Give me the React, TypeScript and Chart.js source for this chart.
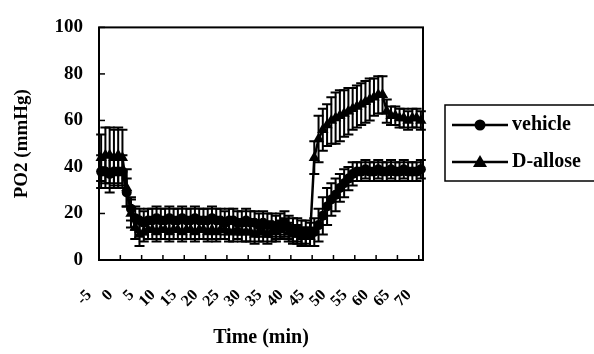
import { useEffect, useRef } from 'react';
import { Chart, registerables } from 'chart.js';

Chart.register(...registerables);

const minutes = [
  -5, -4, -3, -2, -1, 0, 1, 2, 3, 4, 5, 6, 7, 8, 9, 10, 11, 12, 13, 14, 15, 16, 17, 18, 19, 20,
  21, 22, 23, 24, 25, 26, 27, 28, 29, 30, 31, 32, 33, 34, 35, 36, 37, 38, 39, 40, 41, 42, 43, 44,
  45, 46, 47, 48, 49, 50, 51, 52, 53, 54, 55, 56, 57, 58, 59, 60, 61, 62, 63, 64, 65, 66, 67, 68,
  69, 70,
];
const xTickLabels = ['-5', '0', '5', '10', '15', '20', '25', '30', '35', '40', '45', '50', '55', '60', '65', '70'];
const yTickValues = [0, 20, 40, 60, 80, 100];
const seriesLabels = ['vehicle', 'D-allose'];

const vehicle = [
  38, 38, 37, 38, 38, 38,
  29, 22, 18, 17, 16,
  17, 17, 18, 17, 17, 18, 17, 17, 18, 17,
  17, 18, 17, 17, 17, 18, 17, 17, 16, 17,
  17, 16, 16, 17, 16, 16, 15, 16, 15, 15,
  14, 15, 16, 14, 13, 13, 12, 12, 11,
  12, 15, 19, 23, 26, 28, 31, 33, 35, 37, 38,
  38, 39, 38, 38, 39, 38, 38, 39, 38, 38, 39, 38, 38, 38, 39,
];
const vehicleErr = [
  7, 7, 8, 7, 7, 7,
  6, 5, 5, 5, 5,
  5, 5, 5, 5, 5, 5, 5, 5, 5, 5,
  5, 5, 5, 5, 5, 5, 5, 5, 5, 5,
  5, 5, 5, 5, 5, 5, 5, 5, 5, 5,
  5, 5, 5, 5, 5, 5, 5, 5, 5,
  6, 7, 8, 8, 7, 7, 6, 6, 5, 5, 4,
  4, 4, 4, 4, 4, 4, 4, 4, 4, 4, 4, 4, 4, 4, 4,
];
const dAllose = [
  44, 45, 45, 44, 45, 44,
  31, 20, 14, 11, 12,
  13, 13, 12, 13, 13, 12, 13, 13, 12, 13,
  13, 12, 13, 13, 12, 13, 12, 13, 13, 12,
  12, 13, 12, 12, 12, 11, 12, 12, 11, 12,
  12, 13, 14, 12, 11, 11, 10, 10, 10,
  44, 52, 56, 58, 60, 61, 62, 63, 64, 65, 66,
  67, 68, 69, 70, 71, 71, 64, 62, 62, 61, 61, 60, 61, 61, 60,
];
const dAlloseErr = [
  10, 12, 12, 12, 12, 12,
  8, 6, 5, 5, 4,
  4, 4, 4, 4, 4, 4, 4, 4, 4, 4,
  4, 4, 4, 4, 4, 4, 4, 4, 4, 4,
  4, 4, 4, 4, 4, 4, 4, 4, 4, 4,
  4, 4, 4, 4, 4, 4, 4, 4, 4,
  7, 10, 9, 9, 10, 11, 11, 10, 10, 9, 9,
  9, 9, 9, 8, 8, 8, 5, 4, 4, 4, 4, 4, 4, 4, 4,
];

const FONT = "'Liberation Serif', 'Times New Roman', serif";

const errorsBySeries = [vehicleErr, dAlloseErr];

const decorPlugin = {
  id: 'decor',
  beforeDatasetsDraw(chart: any) {
    const ctx = chart.ctx;
    const yScale = chart.scales.y;
    ctx.save();
    ctx.strokeStyle = '#000';
    ctx.lineWidth = 2;
    chart.data.datasets.forEach((ds: any, d: number) => {
      const meta = chart.getDatasetMeta(d);
      const errs = errorsBySeries[d];
      meta.data.forEach((pt: any, i: number) => {
        const v = ds.data[i];
        const e = errs[i];
        const x = pt.x;
        const yTop = yScale.getPixelForValue(v + e);
        const yBot = yScale.getPixelForValue(v - e);
        ctx.beginPath();
        ctx.moveTo(x, yTop);
        ctx.lineTo(x, yBot);
        ctx.moveTo(x - 5, yTop);
        ctx.lineTo(x + 5, yTop);
        ctx.moveTo(x - 5, yBot);
        ctx.lineTo(x + 5, yBot);
        ctx.stroke();
      });
    });
    ctx.restore();
  },
  afterDraw(chart: any) {
    const ctx = chart.ctx;
    const { left, right, top, bottom } = chart.chartArea;
    const xScale = chart.scales.x;
    const yScale = chart.scales.y;
    ctx.save();
    ctx.strokeStyle = '#000';
    ctx.lineWidth = 2;
    ctx.strokeRect(left, top, right - left, bottom - top);
    ctx.lineWidth = 1.5;
    const half = (xScale.getPixelForValue(1) - xScale.getPixelForValue(0)) / 2;
    for (let k = 0; k < xTickLabels.length; k++) {
      const x = xScale.getPixelForValue(k * 5) - half;
      ctx.beginPath();
      ctx.moveTo(x, bottom);
      ctx.lineTo(x, bottom - 5);
      ctx.stroke();
    }
    yTickValues.forEach((v) => {
      const y = yScale.getPixelForValue(v);
      ctx.beginPath();
      ctx.moveTo(left, y);
      ctx.lineTo(left + 6, y);
      ctx.stroke();
    });
    // legend
    const lx = 445;
    const ly = 105;
    ctx.lineWidth = 1.5;
    ctx.strokeRect(lx, ly, 170, 76);
    const rows = [125, 162];
    chart.data.datasets.forEach((ds: any, d: number) => {
      const y = rows[d];
      ctx.lineWidth = 2.5;
      ctx.beginPath();
      ctx.moveTo(452, y);
      ctx.lineTo(508, y);
      ctx.stroke();
      ctx.fillStyle = '#000';
      ctx.beginPath();
      if (d === 0) {
        ctx.arc(480, y, 5.5, 0, Math.PI * 2);
      } else {
        ctx.moveTo(480, y - 7);
        ctx.lineTo(487, y + 5);
        ctx.lineTo(473, y + 5);
        ctx.closePath();
      }
      ctx.fill();
      ctx.font = `bold 20px ${FONT}`;
      ctx.textBaseline = 'middle';
      ctx.textAlign = 'left';
      ctx.fillText(ds.label, 512, y);
    });
    ctx.restore();
  },
};

export default function App() {
  const ref = useRef<HTMLCanvasElement | null>(null);
  useEffect(() => {
    if (!ref.current) return;
    const chart = new Chart(ref.current, {
      type: 'line',
      data: {
        labels: minutes.map(String),
        datasets: [
          {
            label: seriesLabels[0],
            data: vehicle,
            borderColor: '#000',
            backgroundColor: '#000',
            borderWidth: 2.5,
            pointStyle: 'circle',
            pointRadius: 5,
            pointBorderWidth: 0,
            tension: 0,
          },
          {
            label: seriesLabels[1],
            data: dAllose,
            borderColor: '#000',
            backgroundColor: '#000',
            borderWidth: 2.5,
            pointStyle: 'triangle',
            pointRadius: 6.5,
            pointBorderWidth: 0,
            tension: 0,
          },
        ],
      },
      options: {
        responsive: false,
        animation: false,
        layout: { padding: { top: 24, right: 171, left: 0, bottom: 0 } },
        plugins: { legend: { display: false }, tooltip: { enabled: false } },
        scales: {
          x: {
            type: 'category',
            offset: true,
            grid: { display: false, drawTicks: false },
            border: { display: false },
            ticks: {
              autoSkip: false,
              minRotation: 45,
              maxRotation: 45,
              padding: 26,
              labelOffset: -12,
              color: '#000',
              font: { family: FONT, size: 16, weight: 'bold' },
              callback: (_v: any, idx: number) => (idx % 5 === 0 ? xTickLabels[idx / 5] : null),
            },
            title: {
              display: true,
              text: 'Time (min)',
              color: '#000',
              font: { family: FONT, size: 20, weight: 'bold' },
              padding: { top: 0, bottom: 4 },
            },
            afterFit: (scale: any) => {
              scale.height = 94;
            },
          },
          y: {
            min: 0,
            max: 100,
            grid: { display: false, drawTicks: false },
            border: { display: false },
            ticks: {
              stepSize: 20,
              padding: 16,
              color: '#000',
              font: { family: FONT, size: 19, weight: 'bold' },
            },
            title: {
              display: true,
              text: 'PO2 (mmHg)',
              color: '#000',
              font: { family: FONT, size: 19, weight: 'bold' },
              padding: { top: 11, bottom: 0 },
            },
            afterFit: (scale: any) => {
              scale.width = 99;
            },
          },
        },
      },
      plugins: [decorPlugin],
    });
    return () => chart.destroy();
  }, []);
  return (
    <div style={{ position: 'absolute', left: 0, top: 0, width: 594, height: 354, background: '#fff' }}>
      <canvas ref={ref} width={594} height={354} style={{ display: 'block' }} />
    </div>
  );
}
